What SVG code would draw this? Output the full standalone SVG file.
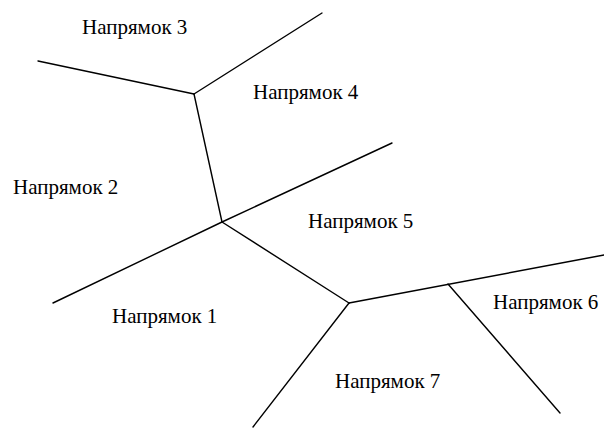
<svg xmlns="http://www.w3.org/2000/svg" width="604" height="428" viewBox="0 0 604 428">
<style>
.l{stroke:#000;stroke-width:1.4;fill:none;stroke-linecap:round}
.t{font-family:"Liberation Serif","Times New Roman",serif;font-size:21px;fill:#000}
</style>
<rect width="604" height="428" fill="#fff"/>
<g id="connectors">
<line class="l" x1="38" y1="61" x2="194" y2="94"/>
<line class="l" x1="194" y1="94" x2="322" y2="13"/>
<line class="l" x1="194" y1="94" x2="222" y2="222"/>
<line class="l" x1="222" y1="222" x2="392" y2="143"/>
<line class="l" x1="222" y1="222" x2="53" y2="303"/>
<line class="l" x1="222" y1="222" x2="349" y2="303"/>
<line class="l" x1="349" y1="303" x2="604" y2="255"/>
<line class="l" x1="349" y1="303" x2="253" y2="427"/>
<line class="l" x1="448" y1="284" x2="560" y2="413"/>
</g>
<g id="n3"><text class="t" x="82" y="34">Напрямок 3</text></g>
<g id="n4"><text class="t" x="253" y="99">Напрямок 4</text></g>
<g id="n2"><text class="t" x="13" y="194">Напрямок 2</text></g>
<g id="n5"><text class="t" x="308" y="228">Напрямок 5</text></g>
<g id="n1"><text class="t" x="112" y="323">Напрямок 1</text></g>
<g id="n6"><text class="t" x="493" y="309">Напрямок 6</text></g>
<g id="n7"><text class="t" x="335" y="388">Напрямок 7</text></g>
</svg>
